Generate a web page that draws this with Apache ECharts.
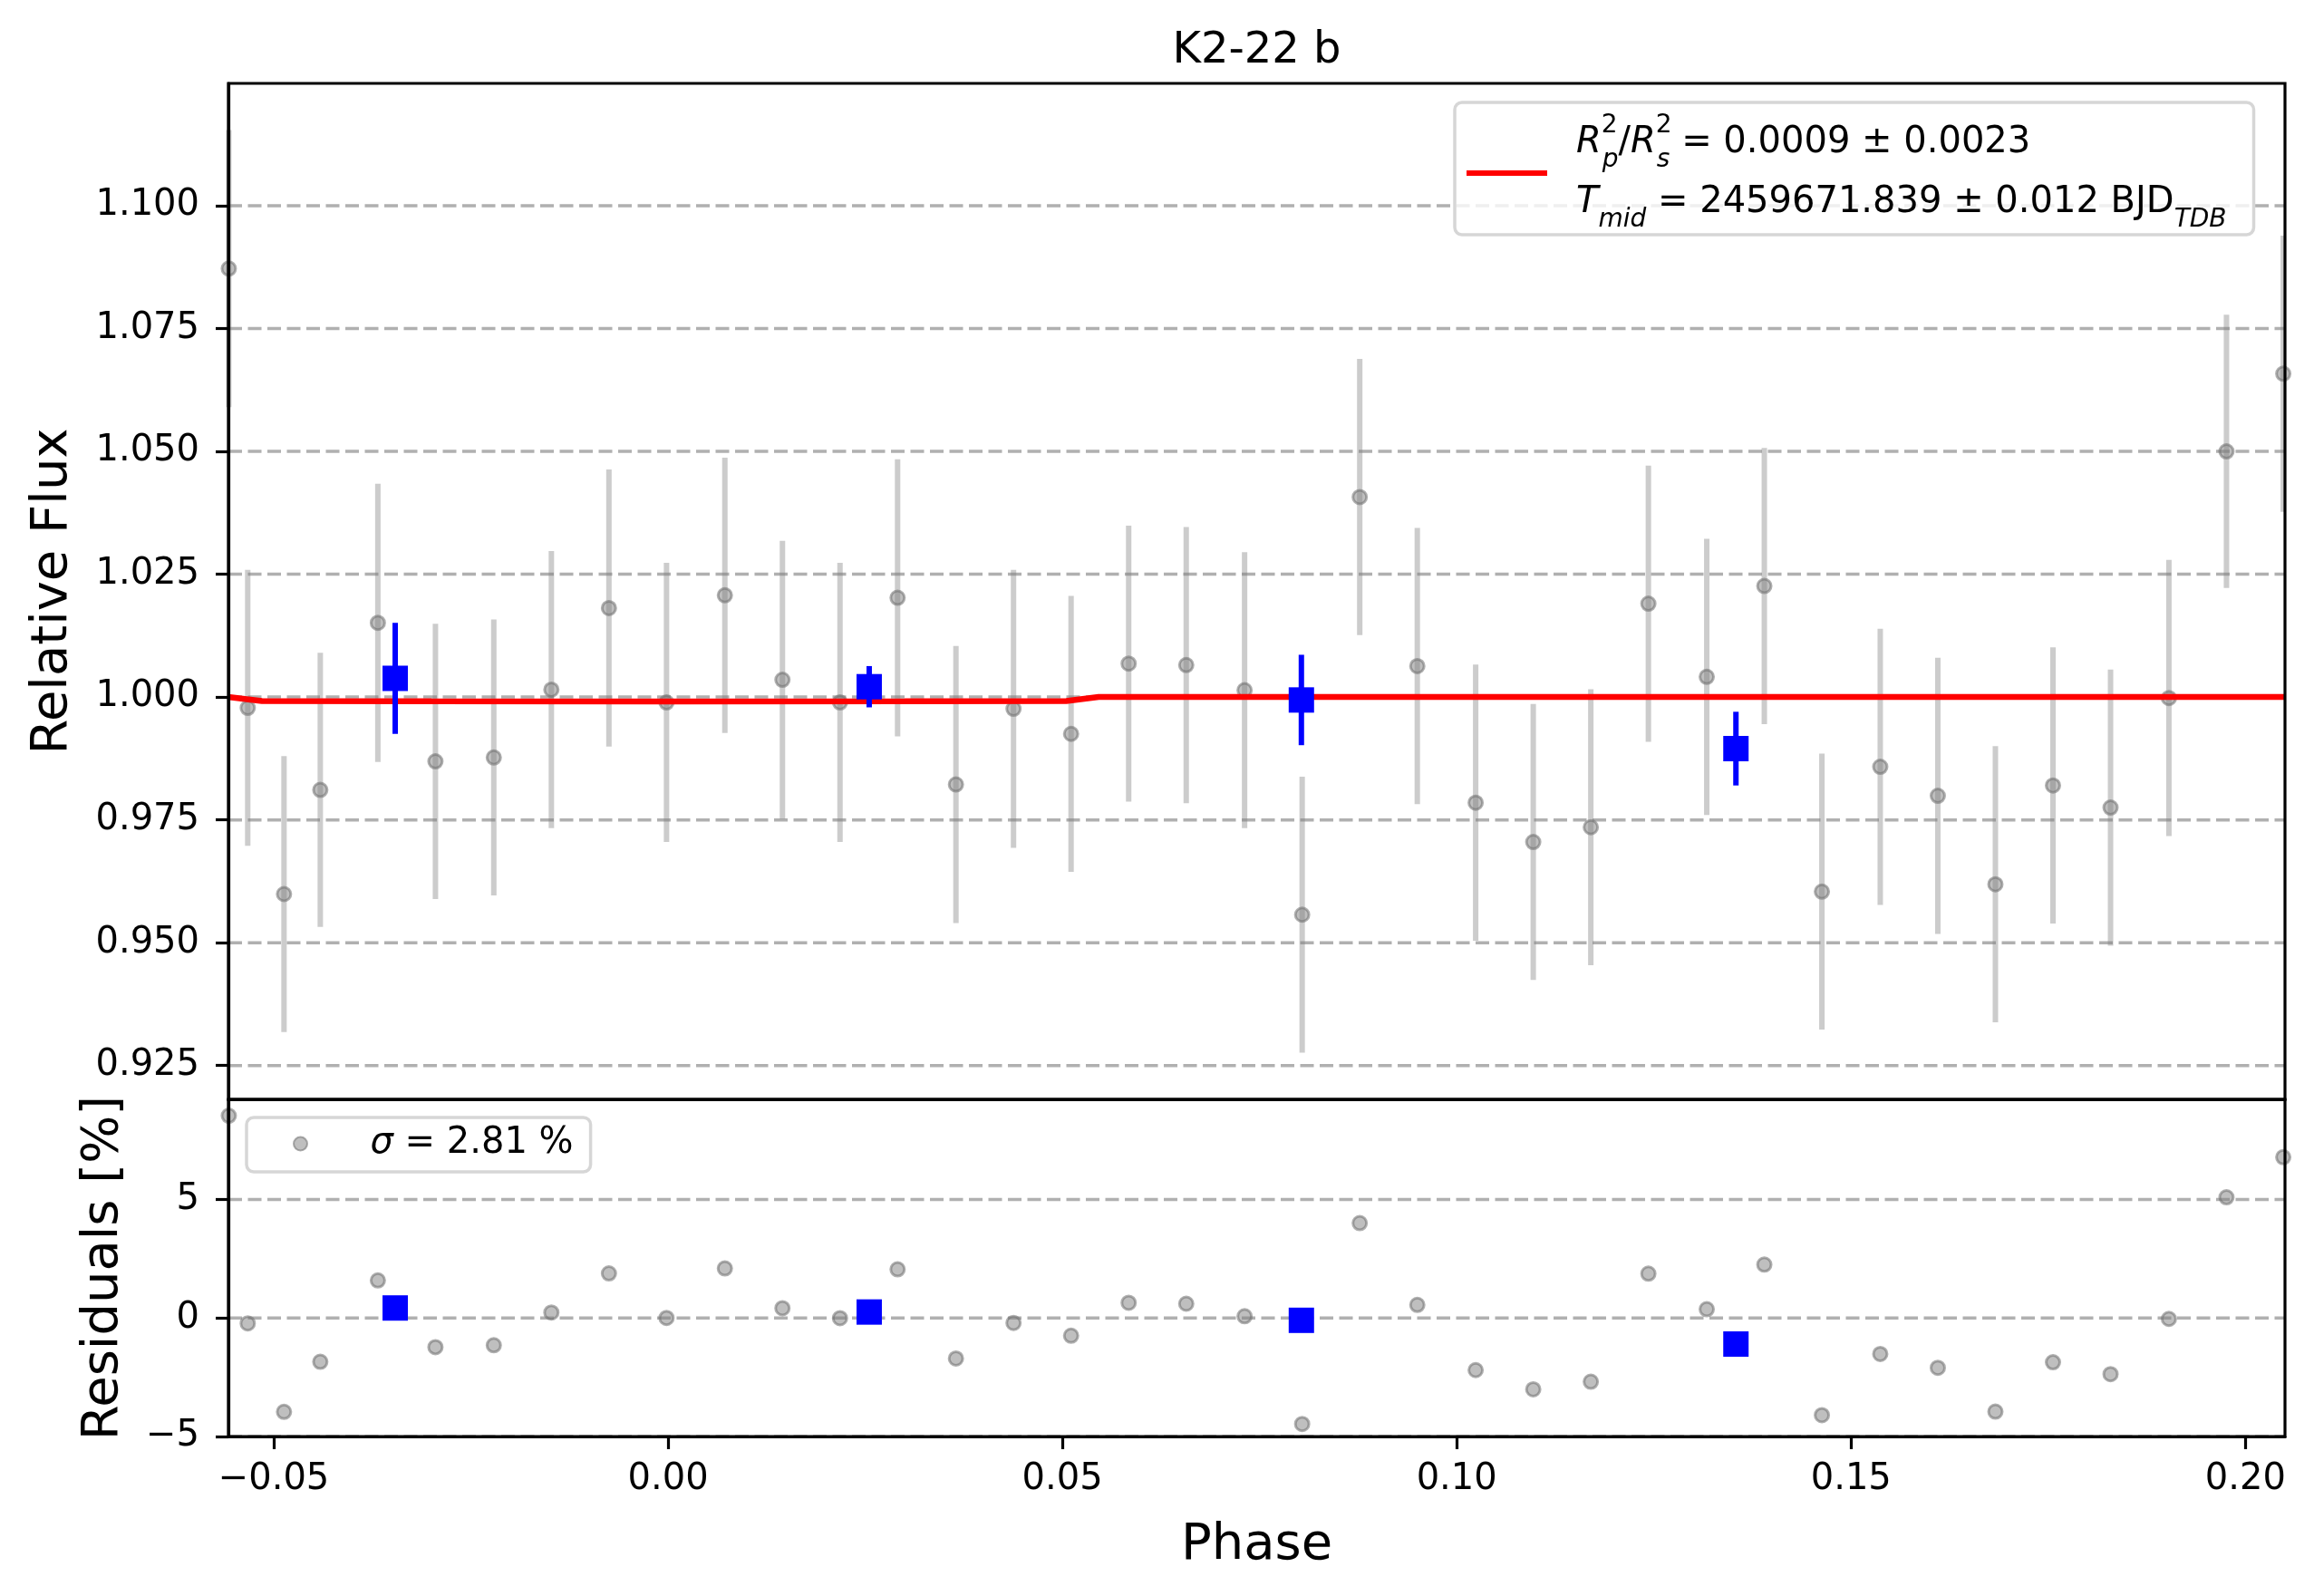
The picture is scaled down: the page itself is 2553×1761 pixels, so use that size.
<!DOCTYPE html>
<html>
<head>
<meta charset="utf-8">
<title>K2-22 b</title>
<script src="https://cdn.jsdelivr.net/npm/echarts@6/dist/echarts.min.js"></script>
<style>
  html, body { margin: 0; padding: 0; background: #fff; }
  #chart { width: 2553px; height: 1761px; }
</style>
</head>
<body>
<div id="chart"></div>
<script>
const FONT = "DejaVu Sans";

// unbinned points (phase, relative flux, 1-sigma error, residual in %)
const phase = [-0.0557, -0.0533, -0.0487, -0.0441, -0.0368, -0.0295, -0.0221, -0.0148, -0.0075, -0.0002,
  0.0072, 0.0145, 0.0218, 0.0291, 0.0365, 0.0438, 0.0511, 0.0584, 0.0657, 0.0731,
  0.0804, 0.0877, 0.0950, 0.1024, 0.1097, 0.1170, 0.1243, 0.1317, 0.1390, 0.1463,
  0.1537, 0.1610, 0.1683, 0.1756, 0.1829, 0.1903, 0.1976, 0.2048];
const flux = [1.0872, 0.9978, 0.9599, 0.9811, 1.0151, 0.9869, 0.9877, 1.0015, 1.0181, 0.9989,
  1.0207, 1.0035, 0.9989, 1.0202, 0.9822, 0.9976, 0.9925, 1.0068, 1.0065, 1.0014,
  0.9557, 1.0407, 1.0063, 0.9785, 0.9705, 0.9735, 1.0190, 1.0041, 1.0226, 0.9604,
  0.9858, 0.9799, 0.9619, 0.9820, 0.9775, 0.9998, 1.0500, 1.0658];
const fluxErr = [0.0282, 0.0281, 0.0281, 0.0279, 0.0283, 0.0280, 0.0281, 0.0282, 0.0282, 0.0284,
  0.0280, 0.0283, 0.0284, 0.0282, 0.0282, 0.0283, 0.0281, 0.0281, 0.0281, 0.0281,
  0.0281, 0.0281, 0.0281, 0.0281, 0.0281, 0.0281, 0.0281, 0.0281, 0.0281, 0.0281,
  0.0281, 0.0281, 0.0281, 0.0281, 0.0281, 0.0281, 0.0278, 0.0281];
const residual = [8.53, -0.23, -3.96, -1.85, 1.58, -1.23, -1.15, 0.23, 1.88, 0.0,
  2.09, 0.41, -0.01, 2.05, -1.71, -0.21, -0.75, 0.64, 0.60, 0.07,
  -4.47, 4.00, 0.55, -2.20, -3.01, -2.69, 1.87, 0.37, 2.25, -4.10,
  -1.52, -2.10, -3.95, -1.87, -2.37, -0.04, 5.09, 6.78];

// binned points
const binPhase = [-0.0346, 0.0255, 0.0803, 0.1354];
const binFlux = [1.0038, 1.0021, 0.9994, 0.9895];
const binErr = [0.0113, 0.0042, 0.0092, 0.0075];
const binResidual = [0.42, 0.25, -0.10, -1.10];

// transit model
const modelPhase = [-0.0558, -0.0515, -0.03, 0.0, 0.03, 0.0505, 0.0546, 0.2051];
const modelFlux = [1.0, 0.9992, 0.99912, 0.9991, 0.99912, 0.9992, 1.0, 1.0];

// axes
const phaseRange = [-0.05575, 0.20502];
const fluxRange = [0.91812, 1.12489];
const residualRange = [-5, 9.22];
const phaseTicks = [-0.05, 0.0, 0.05, 0.10, 0.15, 0.20];
const fluxTicks = [0.925, 0.950, 0.975, 1.000, 1.025, 1.050, 1.075, 1.100];
const residualTicks = [-5, 0, 5];

const titleText = "K2-22 b";
const depthText = " = 0.0009 ± 0.0023";
const tmidText = " = 2459671.839 ± 0.012 BJD";
const sigmaText = " = 2.81 %";

function minus(s) {
  return s.replace("-", "\u2212");
}

function textWidth(text, size) {
  const ctx = document.createElement("canvas").getContext("2d");
  ctx.font = `${size}px "${FONT}"`;
  return ctx.measureText(text).width;
}

function errorBar(color, width) {
  return function (params, api) {
    const x = api.value(0);
    const lo = api.coord([x, api.value(1) - api.value(2)]);
    const hi = api.coord([x, api.value(1) + api.value(2)]);
    return {
      type: "line",
      shape: { x1: lo[0], y1: lo[1], x2: hi[0], y2: hi[1] },
      style: { stroke: color, lineWidth: width }
    };
  };
}

// dashed horizontal grid lines at the tick values
function gridLines(values, xIndex, yIndex) {
  return {
    type: "custom",
    xAxisIndex: xIndex,
    yAxisIndex: yIndex,
    silent: true,
    z: 1,
    encode: { x: 0, y: 1 },
    data: values.map((v) => [phaseRange[0], v]),
    renderItem: (params, api) => {
      const a = api.coord([phaseRange[0], api.value(1)]);
      const b = api.coord([phaseRange[1], api.value(1)]);
      return {
        type: "line",
        shape: { x1: a[0], y1: a[1], x2: b[0], y2: b[1] },
        style: { stroke: "#b0b0b0", lineWidth: 3.5, lineDash: [15, 6.5] }
      };
    }
  };
}

const axisLineStyle = { show: true, onZero: false, lineStyle: { color: "#000", width: 3.2 } };
const tickStyle = { color: "#000", width: 3.2 };
const labelStyle = { fontFamily: FONT, fontSize: 40, color: "#000" };
const nameStyle = { fontFamily: FONT, fontSize: 56, color: "#000" };

const grayPoint = {
  color: "rgba(128,128,128,0.5)",
  borderColor: "rgba(112,112,112,0.55)",
  borderWidth: 3,
  opacity: 1
};

const plotLeft = 252;
const plotRight = 2521;
const titleLeft = (plotLeft + plotRight) / 2 - textWidth(titleText, 48) / 2;

const richTop = {
  t: { fontFamily: FONT, fontSize: 40, lineHeight: 66, color: "#000" },
  i: { fontFamily: FONT, fontSize: 40, fontStyle: "italic", lineHeight: 66, color: "#000" },
  sup: { fontFamily: FONT, fontSize: 28, lineHeight: 53, verticalAlign: "top", width: 1, color: "#000" },
  sub: { fontFamily: FONT, fontSize: 28, fontStyle: "italic", lineHeight: 42, verticalAlign: "bottom", color: "#000" },
  sub2: { fontFamily: FONT, fontSize: 28, fontStyle: "italic", lineHeight: 50, verticalAlign: "bottom", color: "#000" },
  pad: { fontFamily: FONT, fontSize: 40, lineHeight: 66, width: 27 }
};

const richBottom = {
  gap: { fontFamily: FONT, fontSize: 40, lineHeight: 56, width: 64 },
  t: { fontFamily: FONT, fontSize: 40, lineHeight: 56, color: "#000" },
  i: { fontFamily: FONT, fontSize: 40, fontStyle: "italic", lineHeight: 56, color: "#000" }
};

const legendBox = {
  selectedMode: false,
  z: 20,
  backgroundColor: "rgba(255,255,255,0.8)",
  borderColor: "#d6d6d6",
  borderWidth: 3.5,
  borderRadius: 8
};

const chart = echarts.init(document.getElementById("chart"), null, { renderer: "canvas" });

chart.setOption({
  animation: false,
  backgroundColor: "#ffffff",
  title: {
    text: titleText,
    left: titleLeft,
    top: 33,
    padding: 0,
    textStyle: { fontFamily: FONT, fontSize: 48, fontWeight: "normal", color: "#000" }
  },
  legend: [
    {
      ...legendBox,
      data: ["model"],
      left: 1605,
      top: 113,
      icon: "rect",
      itemWidth: 89,
      itemHeight: 6,
      padding: [12, 30, 2, 13],
      formatter: () =>
        "{pad|\u00a0}{i|R}{sup|2}{sub|p}{t|/}{i|R}{sup|2}{sub|s}{t|" + depthText + "}\n" +
        "{pad|\u00a0}{i|T}{sub2|mid}{t|" + tmidText + "}{sub2|TDB}",
      textStyle: { fontFamily: FONT, fontSize: 40, color: "#000", rich: richTop }
    },
    {
      ...legendBox,
      data: ["sigma"],
      left: 272,
      top: 1233,
      icon: "circle",
      itemWidth: 16,
      itemHeight: 15,
      padding: [9, 19, 11, 51],
      formatter: () => "{gap|\u00a0}{i|σ}{t|" + sigmaText + "}",
      textStyle: { fontFamily: FONT, fontSize: 40, color: "#000", rich: richBottom }
    }
  ],
  grid: [
    { left: plotLeft, width: plotRight - plotLeft, top: 92, height: 1121, z: 10,
      show: true, borderColor: "#000", borderWidth: 3.2, backgroundColor: "transparent" },
    { left: plotLeft, width: plotRight - plotLeft, top: 1213, height: 372, z: 10,
      show: true, borderColor: "#000", borderWidth: 3.2, backgroundColor: "transparent" }
  ],
  xAxis: [
    {
      gridIndex: 0, type: "value", min: phaseRange[0], max: phaseRange[1], z: 10,
      axisLine: axisLineStyle, axisTick: { show: false }, axisLabel: { show: false },
      splitLine: { show: false }
    },
    {
      gridIndex: 1, type: "value", min: phaseRange[0], max: phaseRange[1], z: 10,
      axisLine: axisLineStyle,
      axisTick: { show: true, customValues: phaseTicks, length: 14, lineStyle: tickStyle },
      axisLabel: { ...labelStyle, customValues: phaseTicks, margin: 28,
        formatter: (v) => minus(v.toFixed(2)) },
      splitLine: { show: false },
      name: "Phase", nameLocation: "middle", nameGap: 92, nameTextStyle: nameStyle
    }
  ],
  yAxis: [
    {
      gridIndex: 0, type: "value", min: fluxRange[0], max: fluxRange[1], z: 10,
      axisLine: axisLineStyle,
      axisTick: { show: true, customValues: fluxTicks, length: 14, lineStyle: tickStyle },
      axisLabel: { ...labelStyle, customValues: fluxTicks, margin: 32,
        formatter: (v) => v.toFixed(3) },
      splitLine: { show: false },
      name: "Relative Flux", nameLocation: "middle", nameGap: 166, nameTextStyle: nameStyle
    },
    {
      gridIndex: 1, type: "value", min: residualRange[0], max: residualRange[1], z: 10,
      axisLine: axisLineStyle,
      axisTick: { show: true, customValues: residualTicks, length: 14, lineStyle: tickStyle },
      axisLabel: { ...labelStyle, customValues: residualTicks, margin: 32,
        formatter: (v) => minus(String(Math.round(v))) },
      splitLine: { show: false },
      name: "Residuals [%]", nameLocation: "middle", nameGap: 110, nameTextStyle: nameStyle
    }
  ],
  series: [
    gridLines(fluxTicks, 0, 0),
    gridLines(residualTicks, 1, 1),
    {
      name: "flux errors",
      type: "custom",
      xAxisIndex: 0, yAxisIndex: 0,
      z: 2,
      silent: true,
      renderItem: errorBar("rgba(128,128,128,0.4)", 6),
      encode: { x: 0, y: 1 },
      data: phase.map((p, i) => [p, flux[i], fluxErr[i]])
    },
    {
      name: "flux",
      type: "scatter",
      xAxisIndex: 0, yAxisIndex: 0,
      z: 3,
      symbol: "circle",
      symbolSize: 15,
      itemStyle: grayPoint,
      data: phase.map((p, i) => [p, flux[i]])
    },
    {
      name: "model",
      type: "line",
      xAxisIndex: 0, yAxisIndex: 0,
      z: 4,
      color: "#ff0000",
      showSymbol: false,
      symbol: "none",
      lineStyle: { color: "#ff0000", width: 6.5 },
      itemStyle: { color: "#ff0000" },
      data: modelPhase.map((p, i) => [p, modelFlux[i]])
    },
    {
      name: "binned errors",
      type: "custom",
      xAxisIndex: 0, yAxisIndex: 0,
      z: 5,
      silent: true,
      renderItem: errorBar("#0000ff", 6),
      encode: { x: 0, y: 1 },
      data: binPhase.map((p, i) => [p, binFlux[i], binErr[i]])
    },
    {
      name: "binned",
      type: "scatter",
      xAxisIndex: 0, yAxisIndex: 0,
      z: 6,
      symbol: "rect",
      symbolSize: 28,
      itemStyle: { color: "#0000ff", opacity: 1 },
      data: binPhase.map((p, i) => [p, binFlux[i]])
    },
    {
      name: "sigma",
      type: "scatter",
      xAxisIndex: 1, yAxisIndex: 1,
      z: 3,
      symbol: "circle",
      symbolSize: 15,
      itemStyle: grayPoint,
      data: phase.map((p, i) => [p, residual[i]])
    },
    {
      name: "binned residuals",
      type: "scatter",
      xAxisIndex: 1, yAxisIndex: 1,
      z: 6,
      symbol: "rect",
      symbolSize: 28,
      itemStyle: { color: "#0000ff", opacity: 1 },
      data: binPhase.map((p, i) => [p, binResidual[i]])
    }
  ]
});
</script>
</body>
</html>
